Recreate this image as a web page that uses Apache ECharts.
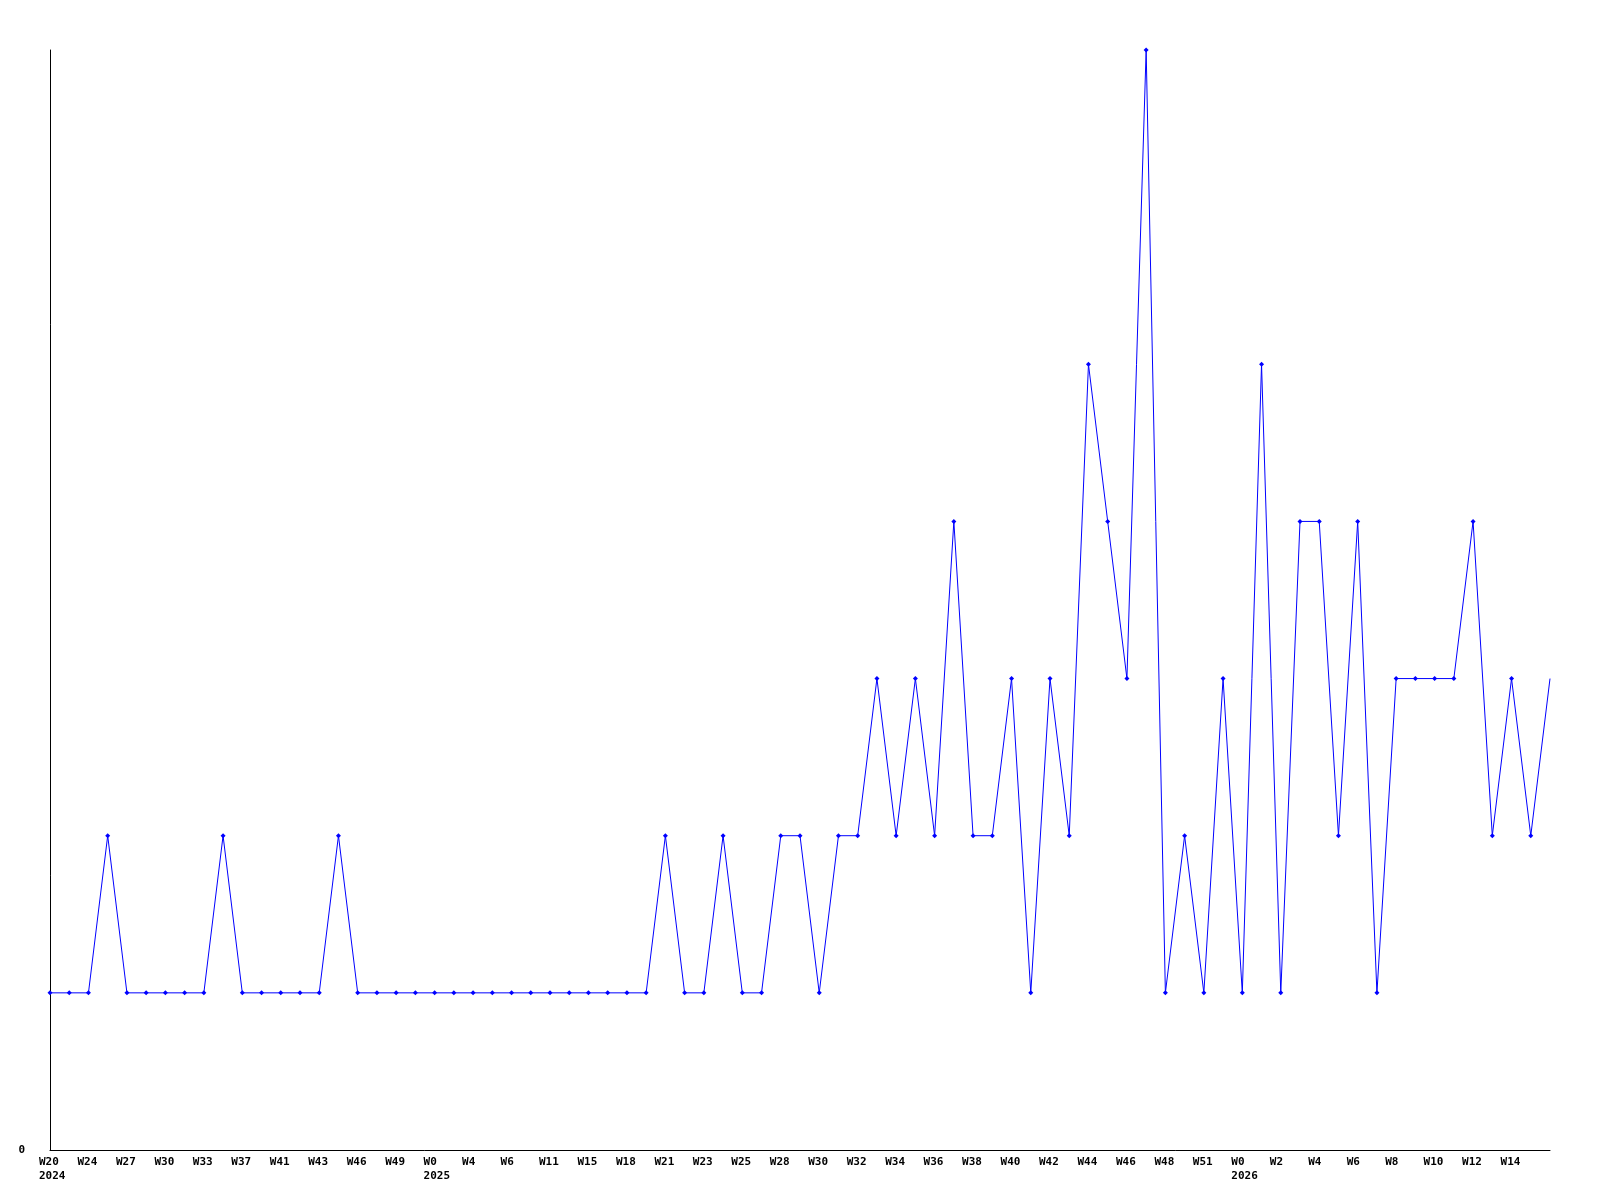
<!DOCTYPE html>
<html>
<head>
<meta charset="utf-8">
<script src="https://cdn.jsdelivr.net/npm/echarts@6/dist/echarts.min.js"></script>
<style>
  html, body { margin: 0; padding: 0; background: #fff; }
  #chart { width: 1600px; height: 1200px; }
</style>
</head>
<body>
<div id="chart"></div>
<script>
// week labels (every other one is shown on the axis)
var weeks = [
  'W20\n2024', 'W22', 'W24', 'W25', 'W27', 'W28', 'W30', 'W31', 'W33', 'W35',
  'W37', 'W39', 'W41', 'W42', 'W43', 'W45', 'W46', 'W47', 'W49', 'W51',
  'W0\n2025', 'W2', 'W4', 'W5', 'W6', 'W9', 'W11', 'W13', 'W15', 'W16',
  'W18', 'W20', 'W21', 'W22', 'W23', 'W24', 'W25', 'W27', 'W28', 'W29',
  'W30', 'W31', 'W32', 'W33', 'W34', 'W35', 'W36', 'W37', 'W38', 'W39',
  'W40', 'W41', 'W42', 'W43', 'W44', 'W45', 'W46', 'W47', 'W48', 'W50',
  'W51', 'W52', 'W0\n2026', 'W1', 'W2', 'W3', 'W4', 'W5', 'W6', 'W7',
  'W8', 'W9', 'W10', 'W11', 'W12', 'W13', 'W14', 'W15', 'W16'
]

var counts = [
  1, 1, 1, 2, 1, 1, 1, 1, 1, 2,
  1, 1, 1, 1, 1, 2, 1, 1, 1, 1,
  1, 1, 1, 1, 1, 1, 1, 1, 1, 1,
  1, 1, 2, 1, 1, 2, 1, 1, 2, 2,
  1, 2, 2, 3, 2, 3, 2, 4, 2, 2,
  3, 1, 3, 2, 5, 4, 3, 7, 1, 2,
  1, 3, 1, 5, 1, 4, 4, 2, 4, 1,
  3, 3, 3, 3, 4, 2, 3, 2, 3
]

var yMax = 7

var chart = echarts.init(document.getElementById('chart'))

var lastIdx = counts.length - 1
var seriesData = counts.map(function (v, i) {
  // the final point runs into the edge of the plot without a marker
  return i === lastIdx ? { value: v, symbol: 'none' } : v
})

var labelFont = {
  fontFamily: 'DejaVu Sans Mono',
  fontWeight: 'bold',
  fontSize: 11,
  color: '#000'
}

var option = {
  animation: false,
  backgroundColor: '#fff',
  grid: { left: 50, right: 50, top: 50, bottom: 50 },
  xAxis: {
    type: 'category',
    boundaryGap: false,
    data: weeks,
    axisLine: { lineStyle: { color: '#000', width: 1 } },
    axisTick: { show: false },
    splitLine: { show: false },
    axisLabel: Object.assign({
      interval: function (i) { return i % 2 === 0 && i < lastIdx },
      margin: 5,
      lineHeight: 14,
      verticalAlign: 'top',
      align: 'center',
      // each line starts ~11px left of its point, like the original
      formatter: function (v) {
        return v.split('\n').map(function (s) { return '{w|' + s + '}' }).join('\n')
      },
      rich: {
        w: Object.assign({ width: 22, align: 'left', lineHeight: 14 }, labelFont)
      }
    }, labelFont)
  },
  yAxis: {
    type: 'value',
    min: 0,
    max: yMax,
    interval: 1,
    axisLine: { show: true, lineStyle: { color: '#000', width: 1 } },
    axisTick: { show: false },
    splitLine: { show: false },
    axisLabel: Object.assign({
      margin: 25,
      formatter: function (v) { return v === 0 ? '0' : '' }
    }, labelFont)
  },
  series: [{
    type: 'line',
    data: seriesData,
    symbol: 'diamond',
    symbolSize: 5,
    showAllSymbol: true,
    lineStyle: { color: '#0000ff', width: 1 },
    itemStyle: { color: '#0000ff' }
  }]
}

chart.setOption(option)
</script>
</body>
</html>
